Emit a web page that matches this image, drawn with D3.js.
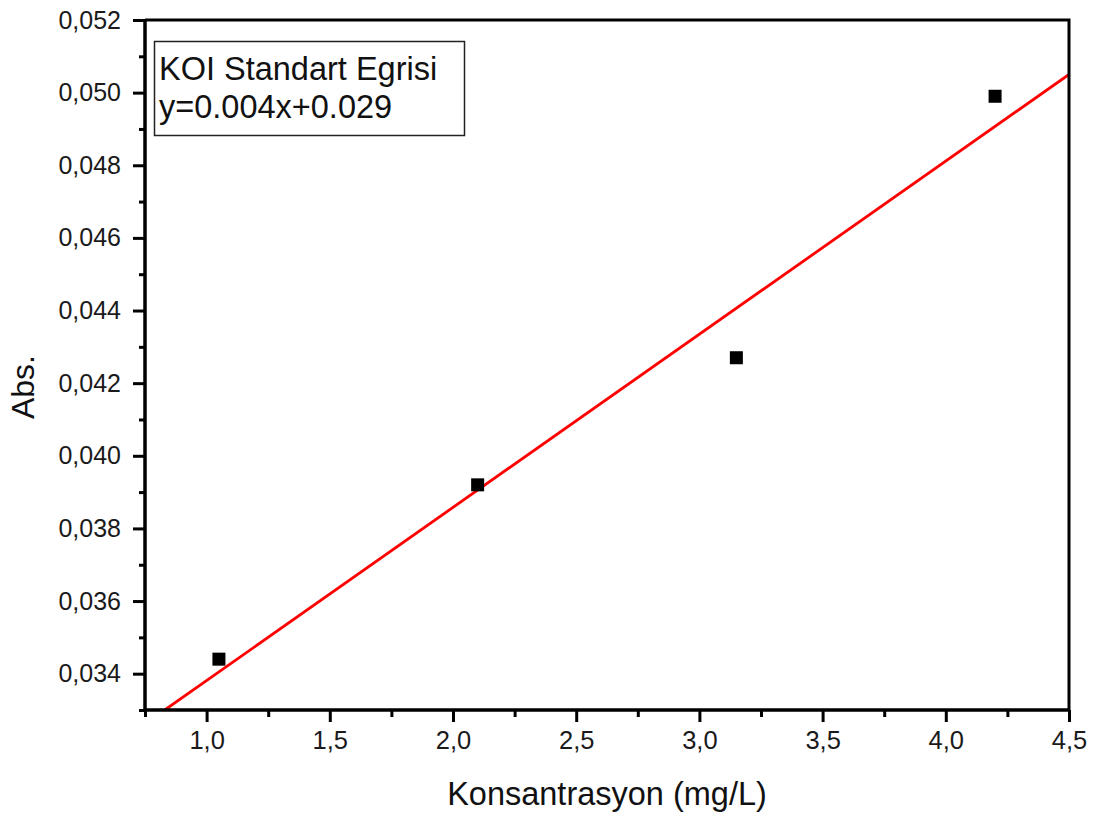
<!DOCTYPE html>
<html><head><meta charset="utf-8">
<script src="https://cdn.jsdelivr.net/npm/d3@7"></script>
<style>body{margin:0;background:#fff}svg{display:block}</style>
</head><body>
<script>
const concentrations = [1.05, 2.1, 3.15, 4.2];
const absorbances = [0.0344, 0.0392, 0.0427, 0.0499];
const fitX = [0.83, 4.5];
const fitY = [0.033, 0.0505];
const xTicks = [1.0, 1.5, 2.0, 2.5, 3.0, 3.5, 4.0, 4.5];
const xMinorTicks = [0.75, 1.25, 1.75, 2.25, 2.75, 3.25, 3.75, 4.25];
const yTicks = [0.034, 0.036, 0.038, 0.040, 0.042, 0.044, 0.046, 0.048, 0.050, 0.052];
const yMinorTicks = [0.033, 0.035, 0.037, 0.039, 0.041, 0.043, 0.045, 0.047, 0.049, 0.051];
const legendLines = ["KOI Standart Egrisi", "y=0.004x+0.029"];
const xTitle = "Konsantrasyon (mg/L)";
const yTitle = "Abs.";

const W = 1101, H = 823;
const L = 145, R = 1069, T = 20, B = 710;
const font = "Arial, 'Liberation Sans', sans-serif";

const svg = d3.select("body").append("svg").attr("width", W).attr("height", H);
const x = d3.scaleLinear().domain([0.75, 4.5]).range([L, R]);
const y = d3.scaleLinear().domain([0.033, 0.052]).range([B, T]);

const fmtX = v => d3.format(".1f")(v).replace(".", ",");
const fmtY = v => d3.format(".3f")(v).replace(".", ",");

svg.append("defs").append("clipPath").attr("id", "clip")
  .append("rect").attr("x", L).attr("y", T).attr("width", R - L).attr("height", B - T);

// fit line
svg.append("path")
  .datum(fitX.map((v, i) => [v, fitY[i]]))
  .attr("clip-path", "url(#clip)")
  .attr("fill", "none").attr("stroke", "#ff0000").attr("stroke-width", 2.8)
  .attr("d", d3.line().x(d => x(d[0])).y(d => y(d[1])));

// points
const ms = 13;
svg.append("g").selectAll("rect").data(concentrations).join("rect")
  .attr("x", (d) => x(d) - ms / 2)
  .attr("y", (d, i) => y(absorbances[i]) - ms / 2)
  .attr("width", ms).attr("height", ms).attr("fill", "#000");

// frame top/right
svg.append("path").attr("fill", "none").attr("stroke", "#000").attr("stroke-width", 3)
  .attr("d", `M${L},${T}H${R}V${B}`);

// x axis
const gx = svg.append("g").attr("transform", `translate(0,${B})`);
gx.call(d3.axisBottom(x).tickValues(xMinorTicks).tickSize(7).tickFormat(""));
gx.call(g => g.append("g").call(d3.axisBottom(x).tickValues(xTicks).tickSize(12).tickPadding(9).tickFormat(fmtX)));
gx.selectAll("path.domain").attr("stroke-width", 3).attr("d", `M${L},0H${R}`);
gx.selectAll("line").attr("stroke-width", 3);
gx.selectAll("text").attr("font-family", font).attr("font-size", 25.5).attr("fill", "#1a1a1a");

// y axis
const gy = svg.append("g").attr("transform", `translate(${L},0)`);
gy.call(d3.axisLeft(y).tickValues(yMinorTicks).tickSize(6).tickFormat(""));
gy.call(g => g.append("g").call(d3.axisLeft(y).tickValues(yTicks).tickSize(12).tickPadding(12).tickFormat(fmtY)));
gy.selectAll("path.domain").attr("stroke-width", 3).attr("d", `M0,${T}V${B}`);
gy.selectAll("line").attr("stroke-width", 3);
gy.selectAll("text").attr("font-family", font).attr("font-size", 25).attr("fill", "#1a1a1a");

// titles
svg.append("text").attr("x", (L + R) / 2).attr("y", 805).attr("text-anchor", "middle")
  .attr("font-family", font).attr("font-size", 32.5).attr("fill", "#111").text(xTitle);
svg.append("text").attr("transform", "translate(34,387) rotate(-90)").attr("text-anchor", "middle")
  .attr("font-family", font).attr("font-size", 32).attr("fill", "#111").text(yTitle);

// legend box
svg.append("rect").attr("x", 154.5).attr("y", 41.5).attr("width", 310).attr("height", 94)
  .attr("fill", "#fff").attr("stroke", "#222").attr("stroke-width", 1.5);
svg.append("g").selectAll("text").data(legendLines).join("text")
  .attr("x", 159).attr("y", (d, i) => 80 + i * 38)
  .attr("font-family", font).attr("font-size", 32.5).attr("fill", "#111").text(d => d);
</script>
</body></html>
